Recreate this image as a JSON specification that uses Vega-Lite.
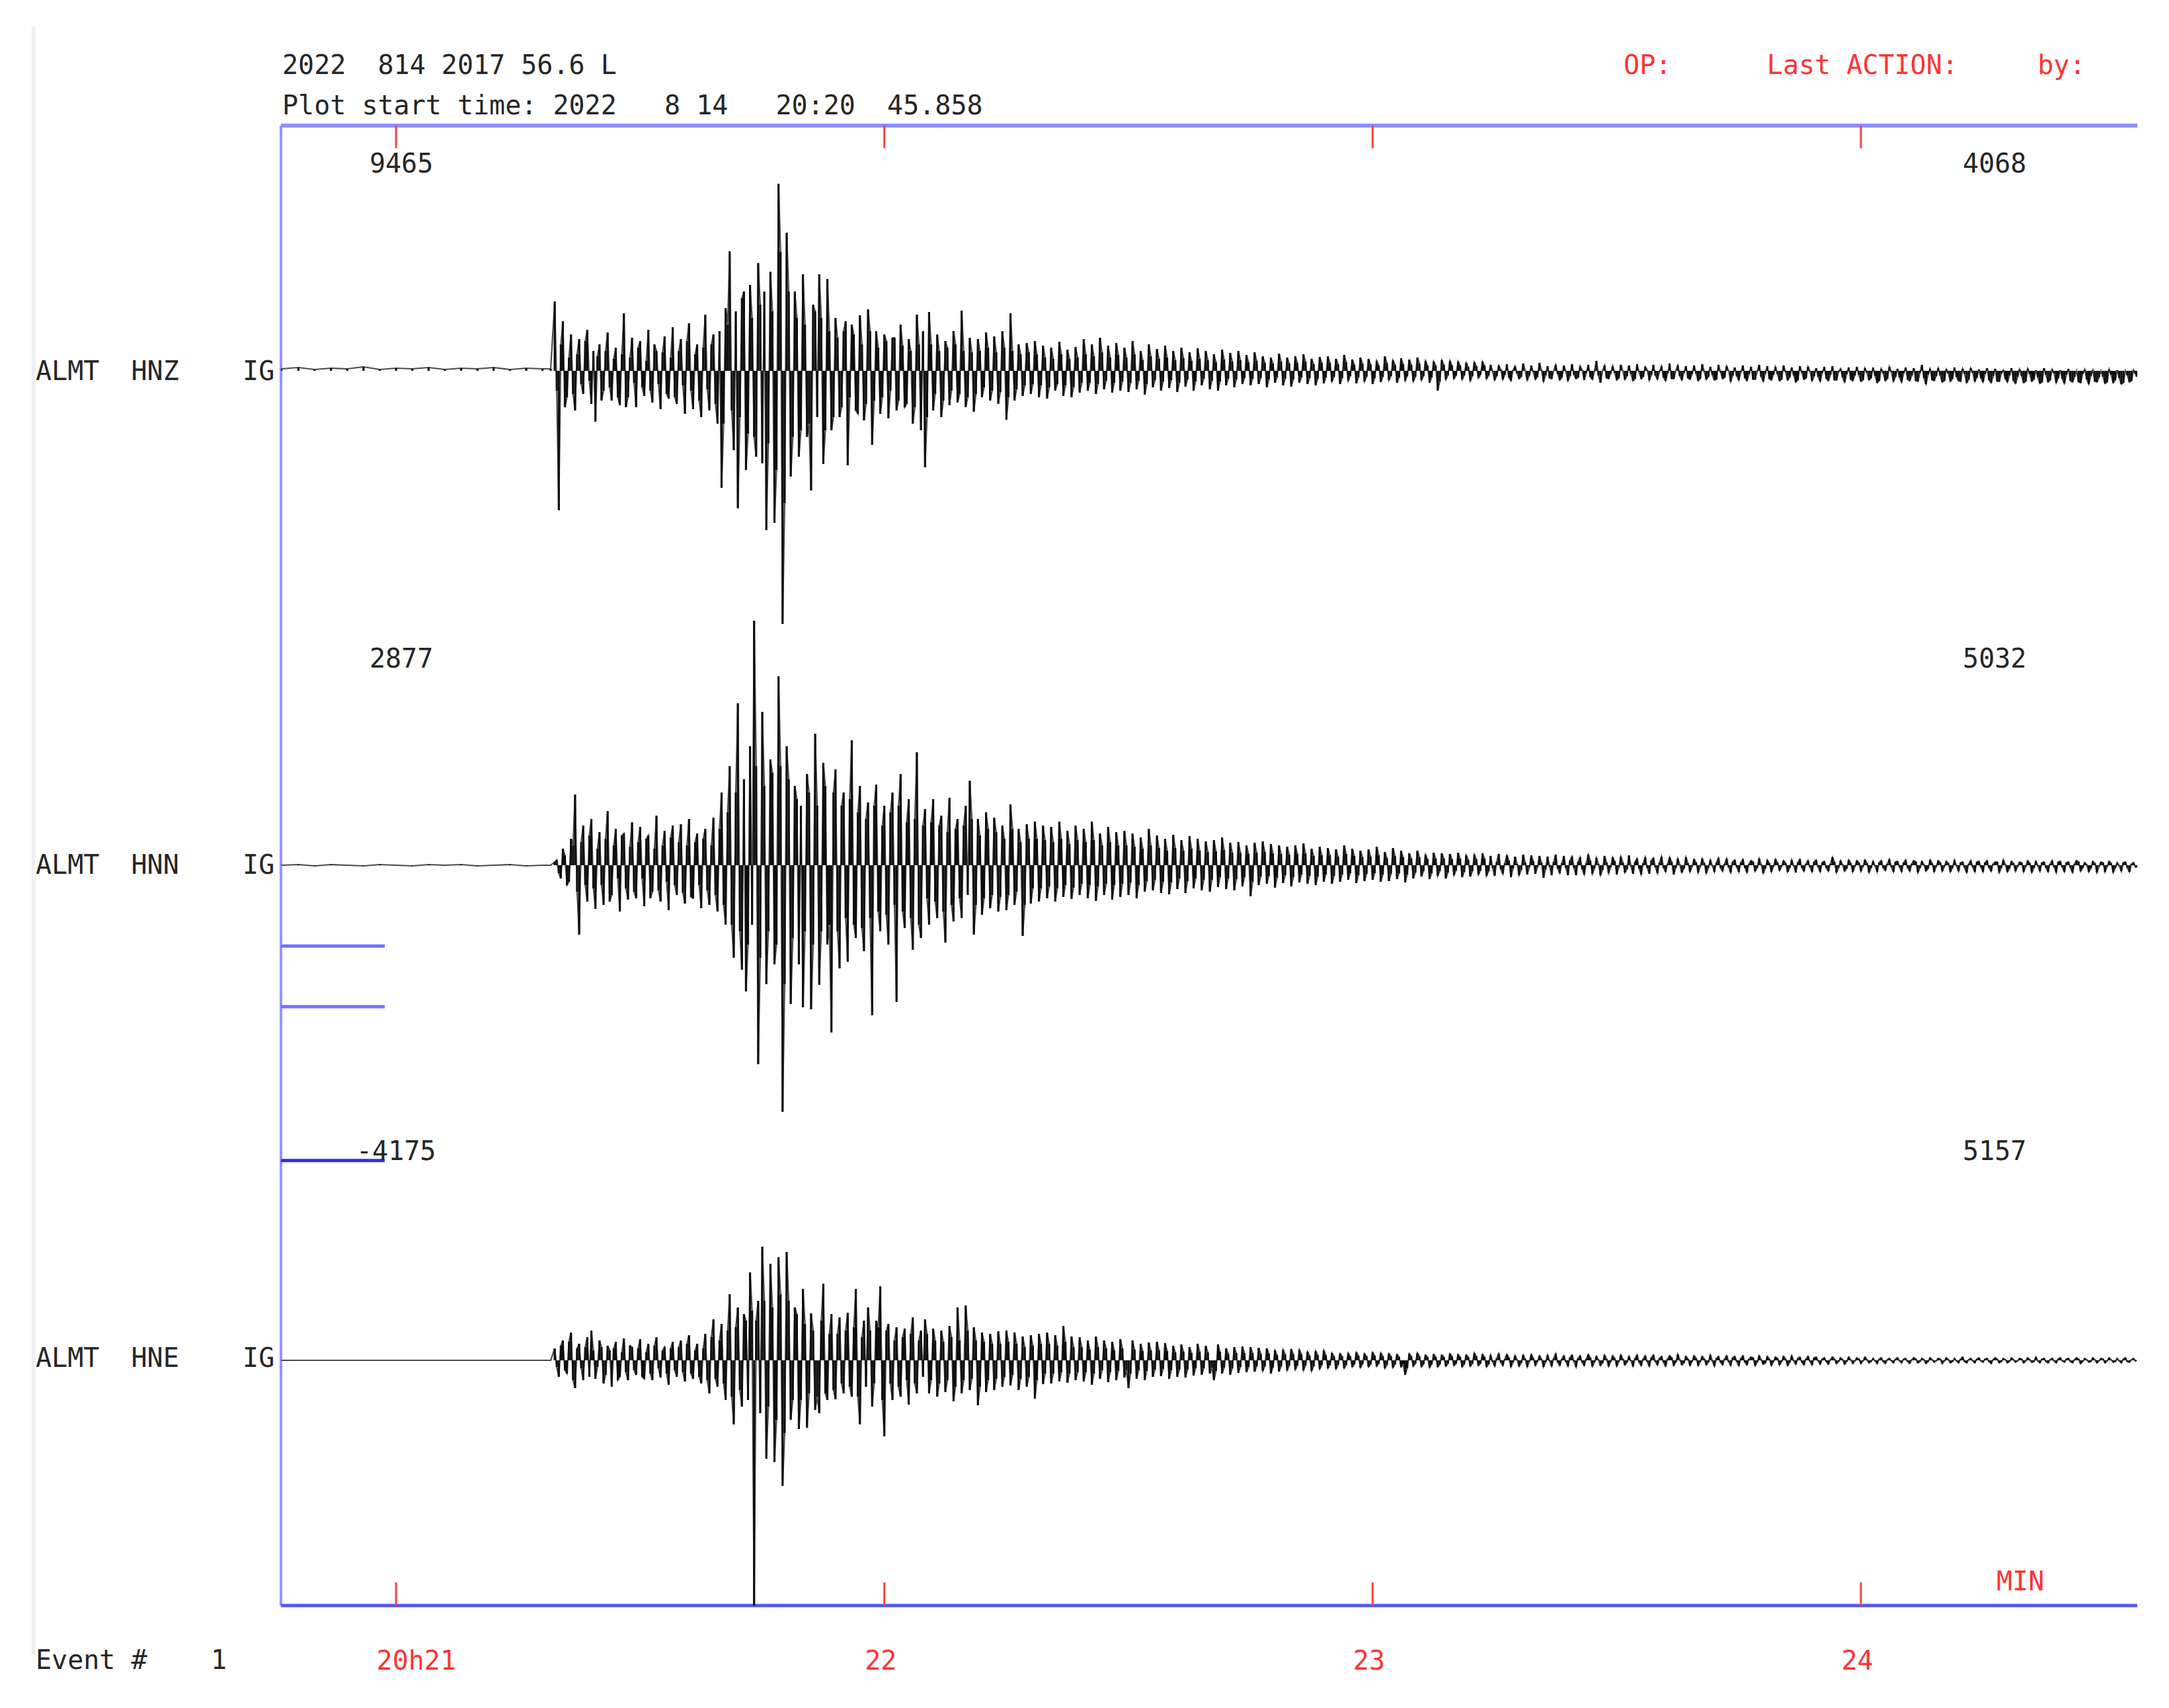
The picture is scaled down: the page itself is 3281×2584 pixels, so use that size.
{
"$schema": "https://vega.github.io/schema/vega-lite/v6.json",
"width": 2808,
"height": 2239,
"autosize": {"type": "none"},
"padding": {"left": 425, "top": 190, "right": 48, "bottom": 155},
"background": "white",
"config": {"view": {"stroke": null}},
"datasets": {
"wave": [
{"t":45.9,"z":3,"n":0,"e":0},{"t":48,"z":5,"n":1,"e":0},{"t":50,"z":2,"n":-1,"e":0},{"t":52,"z":4,"n":1,"e":0},{"t":54,"z":3,"n":0,"e":0},{"t":56,"z":6,"n":-1,"e":0},{"t":58,"z":2,"n":1,"e":0},{"t":60,"z":4,"n":0,"e":0},{"t":62,"z":3,"n":-1,"e":0},{"t":64,"z":5,"n":1,"e":0},{"t":66,"z":2,"n":0,"e":0},{"t":68,"z":4,"n":1,"e":0},{"t":70,"z":3,"n":-1,"e":0},{"t":72,"z":5,"n":0,"e":0},{"t":74,"z":2,"n":1,"e":0},{"t":76,"z":4,"n":-1,"e":0},{"t":78,"z":3,"n":0,"e":0},{"t":79,"z":3,"n":0,"e":0},
{"t":79.5,"z":105,"n":5,"e":18},{"t":80,"z":-211,"n":-12,"e":-25},{"t":80.5,"z":75,"n":25,"e":30},{"t":81,"z":-40,"n":-30,"e":-20},{"t":81.5,"z":55,"n":40,"e":42},{"t":82,"z":-60,"n":107,"e":-42},{"t":82.5,"z":48,"n":-105,"e":25},{"t":83,"z":-35,"n":60,"e":-30},{"t":83.5,"z":62,"n":-55,"e":35},{"t":84,"z":-50,"n":70,"e":45},
{"t":84.5,"z":-77,"n":-66,"e":-28},{"t":85,"z":40,"n":50,"e":30},{"t":85.5,"z":-30,"n":-60,"e":-35},{"t":86,"z":58,"n":82,"e":22},{"t":86.5,"z":-45,"n":-45,"e":-40},{"t":87,"z":35,"n":55,"e":28},{"t":87.5,"z":-52,"n":-70,"e":-25},{"t":88,"z":87,"n":48,"e":33},{"t":88.5,"z":-40,"n":-52,"e":-30},{"t":89,"z":50,"n":65,"e":20},
{"t":89.5,"z":-55,"n":-50,"e":-22},{"t":90,"z":45,"n":58,"e":32},{"t":90.5,"z":-38,"n":-62,"e":-28},{"t":91,"z":62,"n":45,"e":25},{"t":91.5,"z":-48,"n":-40,"e":-30},{"t":92,"z":30,"n":75,"e":35},{"t":92.5,"z":-58,"n":-55,"e":-26},{"t":93,"z":52,"n":52,"e":20},{"t":93.5,"z":-42,"n":-68,"e":-37},{"t":94,"z":66,"n":60,"e":28},
{"t":94.5,"z":-50,"n":-45,"e":-25},{"t":95,"z":48,"n":62,"e":30},{"t":95.5,"z":-65,"n":-58,"e":-32},{"t":96,"z":72,"n":70,"e":38},{"t":96.5,"z":-58,"n":-50,"e":-28},{"t":97,"z":40,"n":48,"e":25},{"t":97.5,"z":-70,"n":-65,"e":-35},{"t":98,"z":85,"n":55,"e":40},{"t":98.5,"z":-60,"n":-60,"e":-50},{"t":99,"z":55,"n":72,"e":62},
{"t":99.5,"z":-80,"n":-70,"e":-40},{"t":100,"z":-177,"n":110,"e":55},{"t":100.5,"z":95,"n":-90,"e":-60},{"t":101,"z":181,"n":150,"e":100},{"t":101.5,"z":-120,"n":-140,"e":-97},{"t":102,"z":-208,"n":245,"e":80},{"t":102.5,"z":110,"n":-158,"e":-70},{"t":103,"z":-150,"n":-191,"e":60},{"t":103.5,"z":130,"n":180,"e":133},{"t":104,"z":-100,"n":370,"e":-372},
{"t":104.5,"z":163,"n":-301,"e":90},{"t":105,"z":-140,"n":232,"e":172},{"t":105.5,"z":-241,"n":-180,"e":-149},{"t":106,"z":150,"n":160,"e":146},{"t":106.5,"z":-230,"n":-150,"e":-154},{"t":107,"z":283,"n":286,"e":156},{"t":107.5,"z":-383,"n":-373,"e":-190},{"t":108,"z":209,"n":180,"e":164},{"t":108.5,"z":-160,"n":-210,"e":-90},{"t":109,"z":120,"n":120,"e":80},
{"t":109.5,"z":-130,"n":-150,"e":-104},{"t":110,"z":146,"n":-215,"e":108},{"t":110.5,"z":-100,"n":138,"e":-102},{"t":111,"z":-181,"n":-218,"e":71},{"t":111.5,"z":90,"n":199,"e":-75},{"t":112,"z":146,"n":-181,"e":-80},{"t":112.5,"z":-141,"n":155,"e":116},{"t":113,"z":139,"n":-120,"e":-60},{"t":113.5,"z":-90,"n":-253,"e":70},{"t":114,"z":80,"n":145,"e":-59},
{"t":114.5,"z":-70,"n":-156,"e":65},{"t":115,"z":60,"n":110,"e":-50},{"t":115.5,"z":-143,"n":-146,"e":72},{"t":116,"z":70,"n":189,"e":-55},{"t":116.5,"z":-60,"n":-110,"e":108},{"t":117,"z":84,"n":120,"e":-97},{"t":117.5,"z":-75,"n":-130,"e":60},{"t":118,"z":93,"n":95,"e":80},{"t":118.5,"z":-112,"n":-227,"e":-70},{"t":119,"z":60,"n":122,"e":60},
{"t":119.5,"z":-65,"n":-100,"e":112},{"t":120,"z":55,"n":90,"e":-115},{"t":120.5,"z":-72,"n":-120,"e":55},{"t":121,"z":50,"n":110,"e":-60},{"t":121.5,"z":-60,"n":-207,"e":50},{"t":122,"z":70,"n":138,"e":-55},{"t":122.5,"z":-55,"n":-95,"e":48},{"t":123,"z":48,"n":100,"e":-67},{"t":123.5,"z":-80,"n":-128,"e":65},{"t":124,"z":85,"n":171,"e":-50},
{"t":124.5,"z":-90,"n":-110,"e":45},{"t":125,"z":-146,"n":85,"e":62},{"t":125.5,"z":89,"n":-90,"e":-50},{"t":126,"z":-60,"n":100,"e":48},{"t":126.5,"z":55,"n":-80,"e":-55},{"t":127,"z":-70,"n":75,"e":45},{"t":127.5,"z":45,"n":-117,"e":-48},{"t":128,"z":-52,"n":102,"e":52},{"t":128.5,"z":60,"n":-85,"e":-62},{"t":129,"z":-48,"n":70,"e":80},
{"t":129.5,"z":91,"n":-80,"e":-50},{"t":130,"z":-55,"n":90,"e":83},{"t":130.5,"z":50,"n":128,"e":-45},{"t":131,"z":-62,"n":-105,"e":50},{"t":131.5,"z":48,"n":70,"e":-68},{"t":132,"z":-40,"n":-75,"e":42},{"t":132.5,"z":58,"n":80,"e":-48},{"t":133,"z":-45,"n":-65,"e":40},{"t":133.5,"z":52,"n":72,"e":-45},{"t":134,"z":-50,"n":-70,"e":44},
{"t":134.5,"z":60,"n":60,"e":-40},{"t":135,"z":-74,"n":-68,"e":45},{"t":135.5,"z":87,"n":92,"e":-38},{"t":136,"z":-45,"n":-60,"e":42},{"t":136.5,"z":40,"n":55,"e":-45},{"t":137,"z":-38,"n":-107,"e":36},{"t":137.5,"z":42,"n":62,"e":-40},{"t":138,"z":-35,"n":-58,"e":38},{"t":138.5,"z":45,"n":66,"e":-58},{"t":139,"z":-40,"n":-55,"e":40},
{"t":139.5,"z":38,"n":60,"e":-36},{"t":140,"z":-42,"n":-50,"e":42},{"t":140.5,"z":35,"n":58,"e":-35},{"t":141,"z":-30,"n":-55,"e":38},{"t":141.5,"z":44,"n":66,"e":-32},{"t":142,"z":-38,"n":-48,"e":52},{"t":142.5,"z":32,"n":52,"e":-34},{"t":143,"z":-40,"n":-51,"e":36},{"t":143.5,"z":36,"n":60,"e":-30},{"t":144,"z":-33,"n":-45,"e":35},
{"t":144.5,"z":48,"n":55,"e":-32},{"t":145,"z":-30,"n":-50,"e":30},{"t":145.5,"z":40,"n":66,"e":-37},{"t":146,"z":-35,"n":-54,"e":36},{"t":146.5,"z":50,"n":48,"e":-28},{"t":147,"z":-28,"n":-45,"e":30},{"t":147.5,"z":38,"n":58,"e":-33},{"t":148,"z":-33,"n":-52,"e":28},{"t":148.5,"z":42,"n":50,"e":-30},{"t":149,"z":-30,"n":-48,"e":32},
{"t":149.5,"z":35,"n":52,"e":-26},{"t":150,"z":-32,"n":-45,"e":-42},{"t":150.5,"z":45,"n":48,"e":30},{"t":151,"z":-28,"n":-50,"e":-28},{"t":151.5,"z":30,"n":42,"e":25},{"t":152,"z":-36,"n":-40,"e":-30},{"t":152.5,"z":40,"n":55,"e":27},{"t":153,"z":-25,"n":-38,"e":-25},{"t":153.5,"z":33,"n":45,"e":28},{"t":154,"z":-30,"n":-42,"e":-24},
{"t":154.5,"z":38,"n":40,"e":26},{"t":155,"z":-26,"n":-44,"e":-28},{"t":155.5,"z":30,"n":46,"e":22},{"t":156,"z":-32,"n":-36,"e":-25},{"t":156.5,"z":35,"n":38,"e":24},{"t":157,"z":-24,"n":-42,"e":-26},{"t":157.5,"z":28,"n":44,"e":20},{"t":158,"z":-30,"n":-35,"e":-23},{"t":158.5,"z":34,"n":40,"e":25},{"t":159,"z":-22,"n":-38,"e":-22},
{"t":159.5,"z":30,"n":36,"e":22},{"t":160,"z":-28,"n":-40,"e":-20},{"t":160.5,"z":25,"n":38,"e":-30},{"t":161,"z":-30,"n":-33,"e":24},{"t":161.5,"z":32,"n":42,"e":-20},{"t":162,"z":-22,"n":-36,"e":18},{"t":162.5,"z":27,"n":34,"e":-22},{"t":163,"z":-25,"n":-38,"e":20},{"t":163.5,"z":30,"n":35,"e":-19},{"t":164,"z":-20,"n":-32,"e":21},
{"t":164.5,"z":24,"n":30,"e":-18},{"t":165,"z":-22,"n":-47,"e":20},{"t":165.5,"z":28,"n":34,"e":-17},{"t":166,"z":-20,"n":-30,"e":19},{"t":166.5,"z":22,"n":36,"e":-16},{"t":167,"z":-25,"n":-28,"e":18},{"t":167.5,"z":20,"n":32,"e":-20},{"t":168,"z":-18,"n":-34,"e":15},{"t":168.5,"z":26,"n":30,"e":-17},{"t":169,"z":-22,"n":-27,"e":16},
{"t":169.5,"z":20,"n":28,"e":-15},{"t":170,"z":-24,"n":-32,"e":17},{"t":170.5,"z":22,"n":30,"e":-14},{"t":171,"z":-18,"n":-26,"e":16},{"t":171.5,"z":25,"n":33,"e":-15},{"t":172,"z":-20,"n":-28,"e":13},{"t":172.5,"z":18,"n":25,"e":-16},{"t":173,"z":-22,"n":-30,"e":14},{"t":173.5,"z":21,"n":28,"e":-13},{"t":174,"z":-19,"n":-25,"e":15},
{"t":174.5,"z":22,"n":26,"e":-12},{"t":175,"z":-16,"n":-28,"e":11},{"t":175.5,"z":18,"n":24,"e":-13},{"t":176,"z":-20,"n":-25,"e":10},{"t":176.5,"z":24,"n":30,"e":-12},{"t":177,"z":-15,"n":-22,"e":11},{"t":177.5,"z":17,"n":25,"e":-10},{"t":178,"z":-19,"n":-27,"e":12},{"t":178.5,"z":20,"n":22,"e":-11},{"t":179,"z":-16,"n":-24,"e":10},
{"t":179.5,"z":18,"n":24,"e":-10},{"t":180,"z":-20,"n":-22,"e":12},{"t":180.5,"z":15,"n":28,"e":-9},{"t":181,"z":-17,"n":-25,"e":11},{"t":181.5,"z":22,"n":20,"e":-12},{"t":182,"z":-14,"n":-24,"e":10},{"t":182.5,"z":16,"n":26,"e":-11},{"t":183,"z":-18,"n":-21,"e":9},{"t":183.5,"z":19,"n":22,"e":-10},{"t":184,"z":-15,"n":-26,"e":-22},
{"t":184.5,"z":17,"n":18,"e":10},{"t":185,"z":-16,"n":-20,"e":-9},{"t":185.5,"z":20,"n":22,"e":11},{"t":186,"z":-14,"n":-17,"e":-10},{"t":186.5,"z":15,"n":16,"e":8},{"t":187,"z":-18,"n":-21,"e":-11},{"t":187.5,"z":14,"n":19,"e":9},{"t":188,"z":-30,"n":-16,"e":-10},{"t":188.5,"z":16,"n":18,"e":8},{"t":189,"z":-13,"n":-20,"e":-9},
{"t":189.5,"z":15,"n":17,"e":10},{"t":190,"z":-12,"n":-15,"e":-8},{"t":190.5,"z":14,"n":19,"e":9},{"t":191,"z":-13,"n":-18,"e":-10},{"t":191.5,"z":12,"n":15,"e":8},{"t":192,"z":-15,"n":-17,"e":-9},{"t":192.5,"z":13,"n":16,"e":11},{"t":193,"z":-11,"n":-14,"e":-8},{"t":193.5,"z":14,"n":18,"e":9},{"t":194,"z":-12,"n":-16,"e":-10},
{"t":194.5,"z":9,"n":14,"e":8},{"t":195,"z":-14,"n":-16,"e":-9},{"t":195.5,"z":8,"n":17,"e":10},{"t":196,"z":-13,"n":-13,"e":-8},{"t":196.5,"z":10,"n":15,"e":9},{"t":197,"z":-15,"n":-18,"e":-10},{"t":197.5,"z":7,"n":13,"e":7},{"t":198,"z":-12,"n":-15,"e":-9},{"t":198.5,"z":11,"n":16,"e":8},{"t":199,"z":-14,"n":-14,"e":-10},
{"t":199.5,"z":8,"n":15,"e":9},{"t":200,"z":-13,"n":-13,"e":-8},{"t":200.5,"z":12,"n":14,"e":7},{"t":201,"z":-16,"n":-19,"e":-10},{"t":201.5,"z":7,"n":13,"e":8},{"t":202,"z":-12,"n":-15,"e":-9},{"t":202.5,"z":9,"n":16,"e":10},{"t":203,"z":-14,"n":-12,"e":-8},{"t":203.5,"z":8,"n":14,"e":7},{"t":204,"z":-15,"n":-15,"e":-9},
{"t":204.5,"z":10,"n":13,"e":8},{"t":205,"z":-12,"n":-15,"e":-10},{"t":205.5,"z":7,"n":12,"e":7},{"t":206,"z":-14,"n":-14,"e":-8},{"t":206.5,"z":9,"n":16,"e":9},{"t":207,"z":-13,"n":-13,"e":-9},{"t":207.5,"z":15,"n":11,"e":6},{"t":208,"z":-18,"n":-15,"e":-8},{"t":208.5,"z":8,"n":14,"e":8},{"t":209,"z":-12,"n":-12,"e":-9},
{"t":209.5,"z":7,"n":12,"e":7},{"t":210,"z":-14,"n":-14,"e":-9},{"t":210.5,"z":9,"n":13,"e":8},{"t":211,"z":-13,"n":-11,"e":-7},{"t":211.5,"z":8,"n":15,"e":6},{"t":212,"z":-15,"n":-13,"e":-9},{"t":212.5,"z":10,"n":10,"e":8},{"t":213,"z":-12,"n":-14,"e":-8},{"t":213.5,"z":6,"n":12,"e":7},{"t":214,"z":-14,"n":-13,"e":-9},
{"t":214.5,"z":9,"n":11,"e":8},{"t":215,"z":-13,"n":-12,"e":-7},{"t":215.5,"z":7,"n":13,"e":6},{"t":216,"z":-15,"n":-10,"e":-9},{"t":216.5,"z":11,"n":12,"e":7},{"t":217,"z":-12,"n":-14,"e":-8},{"t":217.5,"z":8,"n":10,"e":9},{"t":218,"z":-14,"n":-11,"e":-7},{"t":218.5,"z":7,"n":12,"e":6},{"t":219,"z":-13,"n":-10,"e":-8},
{"t":219.5,"z":8,"n":9,"e":7},{"t":220,"z":-15,"n":-11,"e":-8},{"t":220.5,"z":10,"n":10,"e":6},{"t":221,"z":-13,"n":-12,"e":-7},{"t":221.5,"z":6,"n":8,"e":8},{"t":222,"z":-14,"n":-10,"e":-9},{"t":222.5,"z":9,"n":11,"e":6},{"t":223,"z":-12,"n":-9,"e":-7},{"t":223.5,"z":7,"n":10,"e":7},{"t":224,"z":-16,"n":-11,"e":-8},
{"t":224.5,"z":5,"n":8,"e":6},{"t":225,"z":-14,"n":-10,"e":-8},{"t":225.5,"z":8,"n":9,"e":7},{"t":226,"z":-15,"n":-11,"e":-7},{"t":226.5,"z":6,"n":7,"e":5},{"t":227,"z":-13,"n":-9,"e":-8},{"t":227.5,"z":9,"n":10,"e":7},{"t":228,"z":-16,"n":-12,"e":-6},{"t":228.5,"z":7,"n":8,"e":6},{"t":229,"z":-14,"n":-10,"e":-8},
{"t":229.5,"z":6,"n":9,"e":5},{"t":230,"z":-15,"n":-8,"e":-7},{"t":230.5,"z":8,"n":7,"e":6},{"t":231,"z":-14,"n":-10,"e":-8},{"t":231.5,"z":5,"n":8,"e":7},{"t":232,"z":-17,"n":-11,"e":-6},{"t":232.5,"z":7,"n":9,"e":5},{"t":233,"z":-13,"n":-9,"e":-7},{"t":233.5,"z":6,"n":7,"e":6},{"t":234,"z":-15,"n":-10,"e":-7},
{"t":234.5,"z":4,"n":8,"e":5},{"t":235,"z":-16,"n":-10,"e":-6},{"t":235.5,"z":6,"n":6,"e":4},{"t":236,"z":-15,"n":-9,"e":-6},{"t":236.5,"z":7,"n":12,"e":5},{"t":237,"z":-14,"n":-11,"e":-5},{"t":237.5,"z":3,"n":7,"e":4},{"t":238,"z":-17,"n":-9,"e":-6},{"t":238.5,"z":5,"n":8,"e":5},{"t":239,"z":-15,"n":-10,"e":-5},
{"t":239.5,"z":6,"n":7,"e":4},{"t":240,"z":-16,"n":-9,"e":-5},{"t":240.5,"z":4,"n":8,"e":5},{"t":241,"z":-14,"n":-11,"e":-4},{"t":241.5,"z":5,"n":6,"e":3},{"t":242,"z":-18,"n":-10,"e":-5},{"t":242.5,"z":3,"n":7,"e":4},{"t":243,"z":-15,"n":-8,"e":-5},{"t":243.5,"z":6,"n":9,"e":3},{"t":244,"z":-16,"n":-10,"e":-4},
{"t":244.5,"z":3,"n":6,"e":4},{"t":245,"z":-17,"n":-10,"e":-4},{"t":245.5,"z":5,"n":8,"e":3},{"t":246,"z":-15,"n":-9,"e":-5},{"t":246.5,"z":4,"n":7,"e":4},{"t":247,"z":-16,"n":-11,"e":-4},{"t":247.5,"z":9,"n":6,"e":3},{"t":248,"z":-20,"n":-9,"e":-5},{"t":248.5,"z":3,"n":8,"e":4},{"t":249,"z":-15,"n":-10,"e":-3},
{"t":249.5,"z":4,"n":7,"e":3},{"t":250,"z":-17,"n":-9,"e":-5},{"t":250.5,"z":2,"n":6,"e":4},{"t":251,"z":-16,"n":-10,"e":-4},{"t":251.5,"z":5,"n":8,"e":3},{"t":252,"z":-15,"n":-9,"e":-4},{"t":252.5,"z":3,"n":5,"e":5},{"t":253,"z":-18,"n":-11,"e":-4},{"t":253.5,"z":4,"n":7,"e":3},{"t":254,"z":-16,"n":-10,"e":-4},
{"t":254.5,"z":2,"n":6,"e":4},{"t":255,"z":-17,"n":-10,"e":-3},{"t":255.5,"z":4,"n":7,"e":3},{"t":256,"z":-18,"n":-9,"e":-5},{"t":256.5,"z":3,"n":5,"e":4},{"t":257,"z":-16,"n":-11,"e":-4},{"t":257.5,"z":1,"n":8,"e":3},{"t":258,"z":-17,"n":-10,"e":-4},{"t":258.5,"z":4,"n":6,"e":4},{"t":259,"z":-19,"n":-9,"e":-3},
{"t":259.5,"z":2,"n":5,"e":3},{"t":260,"z":-18,"n":-10,"e":-4},{"t":260.5,"z":3,"n":7,"e":4},{"t":261,"z":-16,"n":-11,"e":-3},{"t":261.5,"z":1,"n":6,"e":5},{"t":262,"z":-19,"n":-9,"e":-4},{"t":262.5,"z":4,"n":5,"e":3},{"t":263,"z":-17,"n":-10,"e":-4},{"t":263.5,"z":2,"n":7,"e":3},{"t":264,"z":-18,"n":-11,"e":-4},
{"t":264.5,"z":1,"n":6,"e":4},{"t":265,"z":-19,"n":-10,"e":-3},{"t":265.5,"z":3,"n":5,"e":3},{"t":266,"z":-17,"n":-11,"e":-4},{"t":266.5,"z":0,"n":7,"e":4},{"t":267,"z":-18,"n":-9,"e":-5},{"t":267.5,"z":2,"n":4,"e":3},{"t":268,"z":-20,"n":-10,"e":-3},{"t":268.5,"z":1,"n":6,"e":4},{"t":269,"z":-17,"n":-11,"e":-4},
{"t":269.5,"z":0,"n":5,"e":3},{"t":270,"z":-19,"n":-10,"e":-4},{"t":270.5,"z":2,"n":6,"e":4},{"t":271,"z":-18,"n":-11,"e":-3},{"t":271.5,"z":1,"n":4,"e":3},{"t":272,"z":-20,"n":-9,"e":-4},{"t":272.5,"z":0,"n":5,"e":4},{"t":273,"z":-17,"n":-10,"e":-3},{"t":273.5,"z":1,"n":4,"e":3},{"t":273.9,"z":-9,"n":-3,"e":0},
{"t":79.75,"z":-30,"n":8,"e":-10},{"t":80.25,"z":40,"n":-20,"e":22},{"t":80.75,"z":-55,"n":15,"e":-15},{"t":81.25,"z":20,"n":-25,"e":28},{"t":81.75,"z":-35,"n":30,"e":-30},{"t":82.25,"z":25,"n":-40,"e":18},{"t":82.75,"z":-20,"n":35,"e":-12},{"t":83.25,"z":45,"n":-30,"e":20},{"t":83.75,"z":-15,"n":45,"e":-25},{"t":84.25,"z":30,"n":-35,"e":15},
{"t":84.75,"z":22,"n":25,"e":-10},{"t":85.25,"z":-45,"n":-30,"e":20},{"t":85.75,"z":30,"n":40,"e":-22},{"t":86.25,"z":-25,"n":-55,"e":15},{"t":86.75,"z":18,"n":30,"e":18},{"t":87.25,"z":-40,"n":-20,"e":-30},{"t":87.75,"z":25,"n":45,"e":12},{"t":88.25,"z":-55,"n":-35,"e":-18},{"t":88.75,"z":20,"n":28,"e":22},{"t":89.25,"z":-18,"n":-40,"e":-15},
{"t":89.75,"z":35,"n":35,"e":18},{"t":90.25,"z":-25,"n":-20,"e":-25},{"t":90.75,"z":15,"n":40,"e":12},{"t":91.25,"z":-30,"n":-50,"e":-20},{"t":91.75,"z":40,"n":25,"e":22},{"t":92.25,"z":-20,"n":-38,"e":-12},{"t":92.75,"z":28,"n":30,"e":15},{"t":93.25,"z":-35,"n":-25,"e":-20},{"t":93.75,"z":20,"n":42,"e":18},{"t":94.25,"z":-40,"n":-30,"e":-15},
{"t":94.75,"z":30,"n":35,"e":20},{"t":95.25,"z":-22,"n":-42,"e":-18},{"t":95.75,"z":45,"n":30,"e":25},{"t":96.25,"z":-30,"n":-48,"e":-20},{"t":96.75,"z":25,"n":35,"e":15},{"t":97.25,"z":-45,"n":-30,"e":-25},{"t":97.75,"z":35,"n":40,"e":18},{"t":98.25,"z":-28,"n":-38,"e":-30},{"t":98.75,"z":40,"n":30,"e":35},{"t":99.25,"z":-50,"n":-45,"e":-28},
{"t":99.75,"z":60,"n":55,"e":30},{"t":100.25,"z":-80,"n":-60,"e":-35},{"t":100.75,"z":70,"n":80,"e":45},{"t":101.25,"z":-60,"n":-90,"e":-55},{"t":101.75,"z":90,"n":110,"e":50},{"t":102.25,"z":-70,"n":-100,"e":-45},{"t":102.75,"z":120,"n":130,"e":70},{"t":103.25,"z":-95,"n":-120,"e":-60},{"t":103.75,"z":80,"n":-90,"e":75},{"t":104.25,"z":-130,"n":150,"e":60},
{"t":104.75,"z":100,"n":-140,"e":-80},{"t":105.25,"z":120,"n":120,"e":90},{"t":105.75,"z":-110,"n":-100,"e":-70},{"t":106.25,"z":90,"n":140,"e":80},{"t":106.75,"z":-150,"n":-120,"e":-90},{"t":107.25,"z":180,"n":150,"e":100},{"t":107.75,"z":-200,"n":-180,"e":-110},{"t":108.25,"z":120,"n":130,"e":90},{"t":108.75,"z":-100,"n":-110,"e":-60},{"t":109.25,"z":80,"n":100,"e":70},
{"t":109.75,"z":-90,"n":90,"e":-60},{"t":110.25,"z":70,"n":-100,"e":55},{"t":110.75,"z":-80,"n":110,"e":-50},{"t":111.25,"z":100,"n":-120,"e":45},{"t":111.75,"z":-70,"n":90,"e":-55},{"t":112.25,"z":80,"n":-100,"e":60},{"t":112.75,"z":-90,"n":120,"e":-50},{"t":113.25,"z":60,"n":-90,"e":40},{"t":113.75,"z":-70,"n":110,"e":-45},{"t":114.25,"z":50,"n":-100,"e":40},
{"t":114.75,"z":-55,"n":90,"e":-35},{"t":115.25,"z":75,"n":-80,"e":45},{"t":115.75,"z":-40,"n":100,"e":-40},{"t":116.25,"z":55,"n":-90,"e":50},{"t":116.75,"z":-65,"n":80,"e":-55},{"t":117.25,"z":40,"n":-95,"e":35},{"t":117.75,"z":-50,"n":70,"e":-40},{"t":118.25,"z":60,"n":-80,"e":45},{"t":118.75,"z":-45,"n":90,"e":-35},{"t":119.25,"z":35,"n":-70,"e":50},
{"t":119.75,"z":-40,"n":60,"e":-60},{"t":120.25,"z":45,"n":-75,"e":45},{"t":120.75,"z":-30,"n":80,"e":-35},{"t":121.25,"z":50,"n":-60,"e":30},{"t":121.75,"z":-45,"n":90,"e":-40},{"t":122.25,"z":38,"n":-70,"e":35},{"t":122.75,"z":-50,"n":65,"e":-30},{"t":123.25,"z":30,"n":-80,"e":40},{"t":123.75,"z":-55,"n":70,"e":-35},{"t":124.25,"z":40,"n":-90,"e":30},
{"t":124.75,"z":60,"n":60,"e":-25},{"t":125.25,"z":-70,"n":-50,"e":40},{"t":125.75,"z":40,"n":65,"e":-30},{"t":126.25,"z":-35,"n":-55,"e":30},{"t":126.75,"z":30,"n":60,"e":-35},{"t":127.25,"z":-45,"n":-70,"e":28},{"t":127.75,"z":35,"n":50,"e":-30},{"t":128.25,"z":-30,"n":-60,"e":35},{"t":128.75,"z":40,"n":55,"e":-40},{"t":129.25,"z":-35,"n":-50,"e":30},
{"t":129.75,"z":30,"n":60,"e":-30},{"t":130.25,"z":-40,"n":-45,"e":45},{"t":130.75,"z":28,"n":70,"e":-28},{"t":131.25,"z":-35,"n":-60,"e":30},{"t":131.75,"z":30,"n":45,"e":-40},{"t":132.25,"z":-25,"n":-50,"e":28},{"t":132.75,"z":35,"n":55,"e":-30},{"t":133.25,"z":-30,"n":-45,"e":25},{"t":133.75,"z":28,"n":50,"e":-28},{"t":134.25,"z":-32,"n":-48,"e":25},
{"t":134.75,"z":35,"n":40,"e":-25},{"t":135.25,"z":-40,"n":-45,"e":28},{"t":135.75,"z":30,"n":55,"e":-22},{"t":136.25,"z":-28,"n":-40,"e":25},{"t":136.75,"z":25,"n":35,"e":-28},{"t":137.25,"z":-22,"n":-60,"e":20},{"t":137.75,"z":28,"n":40,"e":-25},{"t":138.25,"z":-20,"n":-35,"e":22},{"t":138.75,"z":25,"n":40,"e":-30},{"t":139.25,"z":-22,"n":-35,"e":25},
{"t":139.75,"z":20,"n":38,"e":-20},{"t":140.25,"z":-25,"n":-32,"e":25},{"t":140.75,"z":18,"n":35,"e":-20},{"t":141.25,"z":-20,"n":-35,"e":22},{"t":141.75,"z":25,"n":40,"e":-18},{"t":142.25,"z":-22,"n":-30,"e":28},{"t":142.75,"z":18,"n":32,"e":-20},{"t":143.25,"z":-25,"n":-34,"e":20},{"t":143.75,"z":20,"n":38,"e":-18},{"t":144.25,"z":-18,"n":-28,"e":20},
{"t":144.75,"z":25,"n":35,"e":-18},{"t":145.25,"z":-18,"n":-30,"e":16},{"t":145.75,"z":22,"n":38,"e":-20},{"t":146.25,"z":-20,"n":-32,"e":20},{"t":146.75,"z":28,"n":30,"e":-15},{"t":147.25,"z":-15,"n":-28,"e":18},{"t":147.75,"z":20,"n":35,"e":-18},{"t":148.25,"z":-18,"n":-30,"e":15},{"t":148.75,"z":24,"n":30,"e":-16},{"t":149.25,"z":-16,"n":-28,"e":18},
{"t":149.75,"z":20,"n":30,"e":-15},{"t":150.25,"z":-18,"n":-26,"e":-20},{"t":150.75,"z":25,"n":28,"e":16},{"t":151.25,"z":-15,"n":-30,"e":-15},{"t":151.75,"z":16,"n":25,"e":14},{"t":152.25,"z":-20,"n":-24,"e":-16},{"t":152.75,"z":22,"n":30,"e":15},{"t":153.25,"z":-14,"n":-22,"e":-14},{"t":153.75,"z":18,"n":26,"e":15},{"t":154.25,"z":-16,"n":-25,"e":-13},
{"t":154.75,"z":20,"n":22,"e":14},{"t":155.25,"z":-14,"n":-26,"e":-15},{"t":155.75,"z":16,"n":26,"e":12},{"t":156.25,"z":-18,"n":-20,"e":-14},{"t":156.75,"z":19,"n":22,"e":13},{"t":157.25,"z":-13,"n":-24,"e":-14},{"t":157.75,"z":15,"n":25,"e":11},{"t":158.25,"z":-16,"n":-20,"e":-12},{"t":158.75,"z":18,"n":22,"e":13},{"t":159.25,"z":-12,"n":-22,"e":-12},
{"t":159.75,"z":16,"n":20,"e":12},{"t":160.25,"z":-15,"n":-22,"e":-11},{"t":160.75,"z":13,"n":21,"e":-16},{"t":161.25,"z":-16,"n":-18,"e":13},{"t":161.75,"z":17,"n":23,"e":-11},{"t":162.25,"z":-12,"n":-20,"e":10},{"t":162.75,"z":14,"n":19,"e":-12},{"t":163.25,"z":-13,"n":-21,"e":11},{"t":163.75,"z":16,"n":19,"e":-10},{"t":164.25,"z":-11,"n":-18,"e":11},
{"t":164.75,"z":13,"n":17,"e":-10},{"t":165.25,"z":-12,"n":-25,"e":11},{"t":165.75,"z":15,"n":19,"e":-9},{"t":166.25,"z":-11,"n":-17,"e":10},{"t":166.75,"z":12,"n":20,"e":-9},{"t":167.25,"z":-13,"n":-16,"e":10},{"t":167.75,"z":11,"n":18,"e":-11},{"t":168.25,"z":-10,"n":-19,"e":8},{"t":168.75,"z":14,"n":17,"e":-9},{"t":169.25,"z":-12,"n":-15,"e":9},
{"t":169.75,"z":11,"n":16,"e":-8},{"t":170.25,"z":-13,"n":-18,"e":9},{"t":170.75,"z":12,"n":17,"e":-8},{"t":171.25,"z":-10,"n":-14,"e":9},{"t":171.75,"z":14,"n":18,"e":-8},{"t":172.25,"z":-11,"n":-16,"e":7},{"t":172.75,"z":10,"n":14,"e":-9},{"t":173.25,"z":-12,"n":-17,"e":8},{"t":173.75,"z":12,"n":15,"e":-7},{"t":174.25,"z":-10,"n":-14,"e":8},
{"t":174.75,"z":12,"n":15,"e":-7},{"t":175.25,"z":-9,"n":-16,"e":6},{"t":175.75,"z":10,"n":13,"e":-7},{"t":176.25,"z":-11,"n":-14,"e":6},{"t":176.75,"z":13,"n":17,"e":-7},{"t":177.25,"z":-8,"n":-12,"e":6},{"t":177.75,"z":9,"n":14,"e":-6},{"t":178.25,"z":-10,"n":-15,"e":7},{"t":178.75,"z":11,"n":12,"e":-6},{"t":179.25,"z":-9,"n":-13,"e":6},
{"t":179.75,"z":10,"n":13,"e":-6},{"t":180.25,"z":-11,"n":-12,"e":7},{"t":180.75,"z":8,"n":15,"e":-5},{"t":181.25,"z":-9,"n":-14,"e":6},{"t":181.75,"z":12,"n":11,"e":-7},{"t":182.25,"z":-8,"n":-13,"e":6},{"t":182.75,"z":9,"n":14,"e":-6},{"t":183.25,"z":-10,"n":-12,"e":5},{"t":183.75,"z":10,"n":12,"e":-6},{"t":184.25,"z":-8,"n":-14,"e":-12},
{"t":184.75,"z":9,"n":10,"e":6},{"t":185.25,"z":-9,"n":-11,"e":-5},{"t":185.75,"z":11,"n":12,"e":6},{"t":186.25,"z":-8,"n":-9,"e":-6},{"t":186.75,"z":8,"n":9,"e":5},{"t":187.25,"z":-10,"n":-12,"e":-6},{"t":187.75,"z":8,"n":10,"e":5},{"t":188.25,"z":-16,"n":-9,"e":-6},{"t":188.75,"z":9,"n":10,"e":5},{"t":189.25,"z":-7,"n":-11,"e":-5},
{"t":189.75,"z":8,"n":9,"e":6},{"t":190.25,"z":-7,"n":-8,"e":-5},{"t":190.75,"z":8,"n":10,"e":5},{"t":191.25,"z":-7,"n":-10,"e":-6},{"t":191.75,"z":6,"n":8,"e":5},{"t":192.25,"z":-8,"n":-9,"e":-5},{"t":192.75,"z":7,"n":9,"e":6},{"t":193.25,"z":-6,"n":-8,"e":-5},{"t":193.75,"z":8,"n":10,"e":5},{"t":194.25,"z":-7,"n":-9,"e":-6},
{"t":194.75,"z":-1,"n":-4,"e":-2},{"t":195.25,"z":-8,"n":5,"e":3},{"t":195.75,"z":2,"n":-6,"e":-3},{"t":196.25,"z":-6,"n":3,"e":2},{"t":196.75,"z":-10,"n":7,"e":4},{"t":197.25,"z":1,"n":-5,"e":-3},{"t":197.75,"z":-4,"n":2,"e":1},{"t":198.25,"z":-9,"n":-7,"e":-4},{"t":198.75,"z":0,"n":4,"e":2},{"t":199.25,"z":-7,"n":-3,"e":-2},
{"t":199.75,"z":-2,"n":6,"e":3},{"t":200.25,"z":-9,"n":-3,"e":-2},{"t":200.75,"z":1,"n":4,"e":2},{"t":201.25,"z":-7,"n":-6,"e":-3},{"t":201.75,"z":-11,"n":-2,"e":-1},{"t":202.25,"z":0,"n":5,"e":3},{"t":202.75,"z":-5,"n":-5,"e":-3},{"t":203.25,"z":-10,"n":3,"e":2},{"t":203.75,"z":-1,"n":-4,"e":-2},{"t":204.25,"z":-8,"n":7,"e":4},
{"t":204.75,"z":-6,"n":-4,"e":-2},{"t":205.25,"z":-10,"n":5,"e":3},{"t":205.75,"z":1,"n":-6,"e":-3},{"t":206.25,"z":-3,"n":3,"e":2},{"t":206.75,"z":-9,"n":7,"e":4},{"t":207.25,"z":-1,"n":-5,"e":-3},{"t":207.75,"z":-7,"n":2,"e":1},{"t":208.25,"z":0,"n":-7,"e":-4},{"t":208.75,"z":-11,"n":4,"e":2},{"t":209.25,"z":-4,"n":-3,"e":-2},
{"t":209.75,"z":-3,"n":6,"e":3},{"t":210.25,"z":-11,"n":-3,"e":-2},{"t":210.75,"z":0,"n":4,"e":2},{"t":211.25,"z":-8,"n":-6,"e":-3},{"t":211.75,"z":-5,"n":-2,"e":-1},{"t":212.25,"z":-12,"n":5,"e":3},{"t":212.75,"z":-2,"n":-5,"e":-3},{"t":213.25,"z":-9,"n":3,"e":2},{"t":213.75,"z":1,"n":-4,"e":-2},{"t":214.25,"z":-6,"n":7,"e":4},
{"t":214.75,"z":-7,"n":-3,"e":-2},{"t":215.25,"z":-1,"n":4,"e":3},{"t":215.75,"z":-10,"n":-4,"e":-3},{"t":216.25,"z":-4,"n":2,"e":2},{"t":216.75,"z":-12,"n":5,"e":4},{"t":217.25,"z":0,"n":-4,"e":-3},{"t":217.75,"z":-8,"n":1,"e":1},{"t":218.25,"z":-3,"n":-5,"e":-4},{"t":218.75,"z":-11,"n":3,"e":2},{"t":219.25,"z":-5,"n":-2,"e":-2},
{"t":219.75,"z":-4,"n":4,"e":3},{"t":220.25,"z":-12,"n":-2,"e":-2},{"t":220.75,"z":-1,"n":3,"e":2},{"t":221.25,"z":-9,"n":-4,"e":-3},{"t":221.75,"z":-6,"n":-1,"e":-1},{"t":222.25,"z":-13,"n":4,"e":3},{"t":222.75,"z":-2,"n":-4,"e":-3},{"t":223.25,"z":-10,"n":2,"e":2},{"t":223.75,"z":0,"n":-3,"e":-2},{"t":224.25,"z":-7,"n":5,"e":4},
{"t":224.75,"z":-8,"n":-3,"e":-2},{"t":225.25,"z":-2,"n":4,"e":3},{"t":225.75,"z":-11,"n":-4,"e":-3},{"t":226.25,"z":-5,"n":2,"e":2},{"t":226.75,"z":-13,"n":5,"e":4},{"t":227.25,"z":-1,"n":-4,"e":-3},{"t":227.75,"z":-9,"n":1,"e":1},{"t":228.25,"z":-4,"n":-5,"e":-4},{"t":228.75,"z":-12,"n":3,"e":2},{"t":229.25,"z":-6,"n":-2,"e":-2},
{"t":229.75,"z":-5,"n":4,"e":3},{"t":230.25,"z":-13,"n":-2,"e":-2},{"t":230.75,"z":-2,"n":3,"e":2},{"t":231.25,"z":-10,"n":-4,"e":-3},{"t":231.75,"z":-7,"n":-1,"e":-1},{"t":232.25,"z":-14,"n":4,"e":3},{"t":232.75,"z":-3,"n":-4,"e":-3},{"t":233.25,"z":-11,"n":2,"e":2},{"t":233.75,"z":-1,"n":-3,"e":-2},{"t":234.25,"z":-8,"n":5,"e":4},
{"t":234.75,"z":-9,"n":-3,"e":-1},{"t":235.25,"z":-3,"n":4,"e":2},{"t":235.75,"z":-12,"n":-4,"e":-2},{"t":236.25,"z":-6,"n":2,"e":1},{"t":236.75,"z":-14,"n":5,"e":2},{"t":237.25,"z":-2,"n":-4,"e":-2},{"t":237.75,"z":-10,"n":1,"e":1},{"t":238.25,"z":-5,"n":-5,"e":-2},{"t":238.75,"z":-13,"n":3,"e":1},{"t":239.25,"z":-7,"n":-2,"e":-1},
{"t":239.75,"z":-6,"n":4,"e":2},{"t":240.25,"z":-14,"n":-2,"e":-1},{"t":240.75,"z":-3,"n":3,"e":1},{"t":241.25,"z":-11,"n":-4,"e":-2},{"t":241.75,"z":-8,"n":-1,"e":-1},{"t":242.25,"z":-15,"n":4,"e":2},{"t":242.75,"z":-4,"n":-4,"e":-2},{"t":243.25,"z":-12,"n":2,"e":1},{"t":243.75,"z":-2,"n":-3,"e":-1},{"t":244.25,"z":-9,"n":5,"e":2},
{"t":244.75,"z":-10,"n":-3,"e":-1},{"t":245.25,"z":-4,"n":4,"e":2},{"t":245.75,"z":-13,"n":-4,"e":-2},{"t":246.25,"z":-7,"n":2,"e":1},{"t":246.75,"z":-15,"n":5,"e":2},{"t":247.25,"z":-3,"n":-4,"e":-2},{"t":247.75,"z":-11,"n":1,"e":1},{"t":248.25,"z":-6,"n":-5,"e":-2},{"t":248.75,"z":-14,"n":3,"e":1},{"t":249.25,"z":-8,"n":-2,"e":-1},
{"t":249.75,"z":-7,"n":4,"e":2},{"t":250.25,"z":-15,"n":-2,"e":-1},{"t":250.75,"z":-4,"n":3,"e":1},{"t":251.25,"z":-12,"n":-4,"e":-2},{"t":251.75,"z":-9,"n":-1,"e":-1},{"t":252.25,"z":-16,"n":4,"e":2},{"t":252.75,"z":-5,"n":-4,"e":-2},{"t":253.25,"z":-13,"n":2,"e":1},{"t":253.75,"z":-3,"n":-3,"e":-1},{"t":254.25,"z":-10,"n":5,"e":2},
{"t":254.75,"z":-11,"n":-3,"e":-1},{"t":255.25,"z":-5,"n":4,"e":2},{"t":255.75,"z":-14,"n":-4,"e":-2},{"t":256.25,"z":-8,"n":2,"e":1},{"t":256.75,"z":-16,"n":5,"e":2},{"t":257.25,"z":-4,"n":-4,"e":-2},{"t":257.75,"z":-12,"n":1,"e":1},{"t":258.25,"z":-7,"n":-5,"e":-2},{"t":258.75,"z":-15,"n":3,"e":1},{"t":259.25,"z":-9,"n":-2,"e":-1},
{"t":259.75,"z":-8,"n":4,"e":2},{"t":260.25,"z":-16,"n":-2,"e":-1},{"t":260.75,"z":-5,"n":3,"e":1},{"t":261.25,"z":-13,"n":-4,"e":-2},{"t":261.75,"z":-10,"n":-1,"e":-1},{"t":262.25,"z":-17,"n":4,"e":2},{"t":262.75,"z":-6,"n":-4,"e":-2},{"t":263.25,"z":-14,"n":2,"e":1},{"t":263.75,"z":-4,"n":-3,"e":-1},{"t":264.25,"z":-11,"n":5,"e":2},
{"t":264.75,"z":-12,"n":-3,"e":-1},{"t":265.25,"z":-6,"n":4,"e":2},{"t":265.75,"z":-15,"n":-4,"e":-2},{"t":266.25,"z":-9,"n":2,"e":1},{"t":266.75,"z":-17,"n":5,"e":2},{"t":267.25,"z":-5,"n":-4,"e":-2},{"t":267.75,"z":-13,"n":1,"e":1},{"t":268.25,"z":-8,"n":-5,"e":-2},{"t":268.75,"z":-16,"n":3,"e":1},{"t":269.25,"z":-10,"n":-2,"e":-1},
{"t":269.75,"z":-9,"n":4,"e":2},{"t":270.25,"z":-17,"n":-2,"e":-1},{"t":270.75,"z":-6,"n":3,"e":1},{"t":271.25,"z":-14,"n":-4,"e":-2},{"t":271.75,"z":-11,"n":-1,"e":-1},{"t":272.25,"z":-18,"n":4,"e":2},{"t":272.75,"z":-7,"n":-4,"e":-2},{"t":273.25,"z":-15,"n":2,"e":1},{"t":273.75,"z":-5,"n":-3,"e":-1}
]
},
"encoding": {
"x": {"field": "t", "type": "quantitative",
"scale": {"domain": [45.858, 273.96], "nice": false, "zero": false},
"axis": {"values": [60, 120, 180, 240], "labelExpr": "datum.value == 60 ? '20h21' : '' + (20 + datum.value / 60)", "title": null, "grid": false, "ticks": false, "tickSize": 0, "domain": false, "labelColor": "#ff3333", "labelFont": "DejaVu Sans Mono", "labelFontSize": 40, "labelPadding": 84, "labelBaseline": "middle", "labelAlign": "left", "labelOffset": -30, "labelFlush": false, "labelOverlap": false}}
},
"layer": [
{"data": {"values": [{"t": 15.47, "lv": 0.30, "lv2": 3.6}]},
 "mark": {"type": "rule", "color": "#f0f0f0", "strokeWidth": 6, "clip": false},
 "encoding": {"y": {"field": "lv", "type": "quantitative", "scale": {"domain": [0.5, 3.5], "reverse": true, "nice": false, "zero": false}, "axis": null}, "y2": {"field": "lv2"}}},
{"data": {"values": [{"t": 45.858, "lv": 0.5, "lv2": 3.5}]},
 "mark": {"type": "rule", "color": "#9494ff", "strokeWidth": 4, "clip": false},
 "encoding": {"y": {"field": "lv", "type": "quantitative", "scale": {"domain": [0.5, 3.5], "reverse": true, "nice": false, "zero": false}, "axis": null}, "y2": {"field": "lv2"}}},
{"data": {"values": [{"t": 45.858, "t2": 273.96, "lv": 0.5}]},
 "mark": {"type": "rule", "color": "#8f8fff", "strokeWidth": 6, "clip": false},
 "encoding": {"x2": {"field": "t2"}, "y": {"field": "lv", "type": "quantitative", "scale": {"domain": [0.5, 3.5], "reverse": true, "nice": false, "zero": false}, "axis": null}}},
{"data": {"values": [{"t": 45.858, "t2": 273.96, "lv": 3.5}]},
 "mark": {"type": "rule", "color": "#5555f2", "strokeWidth": 5, "clip": false},
 "encoding": {"x2": {"field": "t2"}, "y": {"field": "lv", "type": "quantitative", "scale": {"domain": [0.5, 3.5], "reverse": true, "nice": false, "zero": false}, "axis": null}}},
{"data": {"values": [{"t": 45.858, "t2": 58.61, "lv": 2.163}, {"t": 45.858, "t2": 58.61, "lv": 2.286}]},
 "mark": {"type": "rule", "color": "#7272ff", "strokeWidth": 5, "clip": false},
 "encoding": {"x2": {"field": "t2"}, "y": {"field": "lv", "type": "quantitative", "scale": {"domain": [0.5, 3.5], "reverse": true, "nice": false, "zero": false}, "axis": null}}},
{"data": {"values": [{"t": 45.858, "t2": 58.61, "lv": 2.598}]},
 "mark": {"type": "rule", "color": "#2e2ee8", "strokeWidth": 5, "clip": false},
 "encoding": {"x2": {"field": "t2"}, "y": {"field": "lv", "type": "quantitative", "scale": {"domain": [0.5, 3.5], "reverse": true, "nice": false, "zero": false}, "axis": null}}},
{"data": {"values": [{"t": 60, "lv": 0.5, "lv2": 0.546}, {"t": 120, "lv": 0.5, "lv2": 0.546}, {"t": 180, "lv": 0.5, "lv2": 0.546}, {"t": 240, "lv": 0.5, "lv2": 0.546}, {"t": 60, "lv": 3.453, "lv2": 3.5}, {"t": 120, "lv": 3.453, "lv2": 3.5}, {"t": 180, "lv": 3.453, "lv2": 3.5}, {"t": 240, "lv": 3.453, "lv2": 3.5}]},
 "mark": {"type": "rule", "color": "#ff4040", "strokeWidth": 3, "clip": false},
 "encoding": {"y": {"field": "lv", "type": "quantitative", "scale": {"domain": [0.5, 3.5], "reverse": true, "nice": false, "zero": false}, "axis": null}, "y2": {"field": "lv2"}}},
{"data": {"name": "wave"},
 "mark": {"type": "line", "color": "#4a4a4a", "strokeWidth": 2.2, "clip": true},
 "encoding": {"y": {"field": "z", "type": "quantitative", "scale": {"domain": [-1868, 371], "nice": false, "zero": false}, "axis": null}}},
{"data": {"name": "wave"},
 "mark": {"type": "rule", "color": "#0d0d0d", "strokeWidth": 3.2, "clip": true},
 "encoding": {"y": {"field": "z", "type": "quantitative", "scale": {"domain": [-1868, 371], "nice": false, "zero": false}, "axis": null}, "y2": {"datum": 0}}},
{"data": {"name": "wave"},
 "mark": {"type": "line", "color": "#4a4a4a", "strokeWidth": 2.2, "clip": true},
 "encoding": {"y": {"field": "n", "type": "quantitative", "scale": {"domain": [-1120, 1119], "nice": false, "zero": false}, "axis": null}}},
{"data": {"name": "wave"},
 "mark": {"type": "rule", "color": "#0d0d0d", "strokeWidth": 3.2, "clip": true},
 "encoding": {"y": {"field": "n", "type": "quantitative", "scale": {"domain": [-1120, 1119], "nice": false, "zero": false}, "axis": null}, "y2": {"datum": 0}}},
{"data": {"name": "wave"},
 "mark": {"type": "line", "color": "#4a4a4a", "strokeWidth": 2.2, "clip": true},
 "encoding": {"y": {"field": "e", "type": "quantitative", "scale": {"domain": [-371, 1868], "nice": false, "zero": false}, "axis": null}}},
{"data": {"name": "wave"},
 "mark": {"type": "rule", "color": "#0d0d0d", "strokeWidth": 3.2, "clip": true},
 "encoding": {"y": {"field": "e", "type": "quantitative", "scale": {"domain": [-371, 1868], "nice": false, "zero": false}, "axis": null}, "y2": {"datum": 0}}},
{"data": {"values": [
 {"t": 46.02, "lv": 0.379, "txt": "2022\u00a0\u00a0814\u00a02017\u00a056.6\u00a0L"},
 {"t": 46.02, "lv": 0.461, "txt": "Plot\u00a0start\u00a0time:\u00a02022\u00a0\u00a0\u00a08\u00a014\u00a0\u00a0\u00a020:20\u00a0\u00a045.858"},
 {"t": 56.74, "lv": 0.579, "txt": "9465"},
 {"t": 252.52, "lv": 0.579, "txt": "4068"},
 {"t": 56.74, "lv": 1.583, "txt": "2877"},
 {"t": 252.52, "lv": 1.583, "txt": "5032"},
 {"t": 55.12, "lv": 2.581, "txt": "-4175"},
 {"t": 252.52, "lv": 2.581, "txt": "5157"},
 {"t": 15.72, "lv": 1.0, "txt": "ALMT\u00a0\u00a0HNZ\u00a0\u00a0\u00a0\u00a0IG"},
 {"t": 15.72, "lv": 2.0, "txt": "ALMT\u00a0\u00a0HNN\u00a0\u00a0\u00a0\u00a0IG"},
 {"t": 15.72, "lv": 3.0, "txt": "ALMT\u00a0\u00a0HNE\u00a0\u00a0\u00a0\u00a0IG"},
 {"t": 15.72, "lv": 3.613, "txt": "Event\u00a0#\u00a0\u00a0\u00a0\u00a01"}
 ]},
 "mark": {"type": "text", "font": "DejaVu Sans Mono", "fontSize": 40, "align": "left", "baseline": "middle", "color": "#262626", "clip": false},
 "encoding": {"y": {"field": "lv", "type": "quantitative", "scale": {"domain": [0.5, 3.5], "reverse": true, "nice": false, "zero": false}, "axis": null}, "text": {"field": "txt"}}},
{"data": {"values": [
 {"t": 210.85, "lv": 0.379, "txt": "OP:\u00a0\u00a0\u00a0\u00a0\u00a0\u00a0Last\u00a0ACTION:\u00a0\u00a0\u00a0\u00a0\u00a0by:"},
 {"t": 256.66, "lv": 3.453, "txt": "MIN"}
 ]},
 "mark": {"type": "text", "font": "DejaVu Sans Mono", "fontSize": 40, "align": "left", "baseline": "middle", "color": "#ff3333", "clip": false},
 "encoding": {"y": {"field": "lv", "type": "quantitative", "scale": {"domain": [0.5, 3.5], "reverse": true, "nice": false, "zero": false}, "axis": null}, "text": {"field": "txt"}}}
],
"resolve": {"scale": {"y": "independent"}}
}
